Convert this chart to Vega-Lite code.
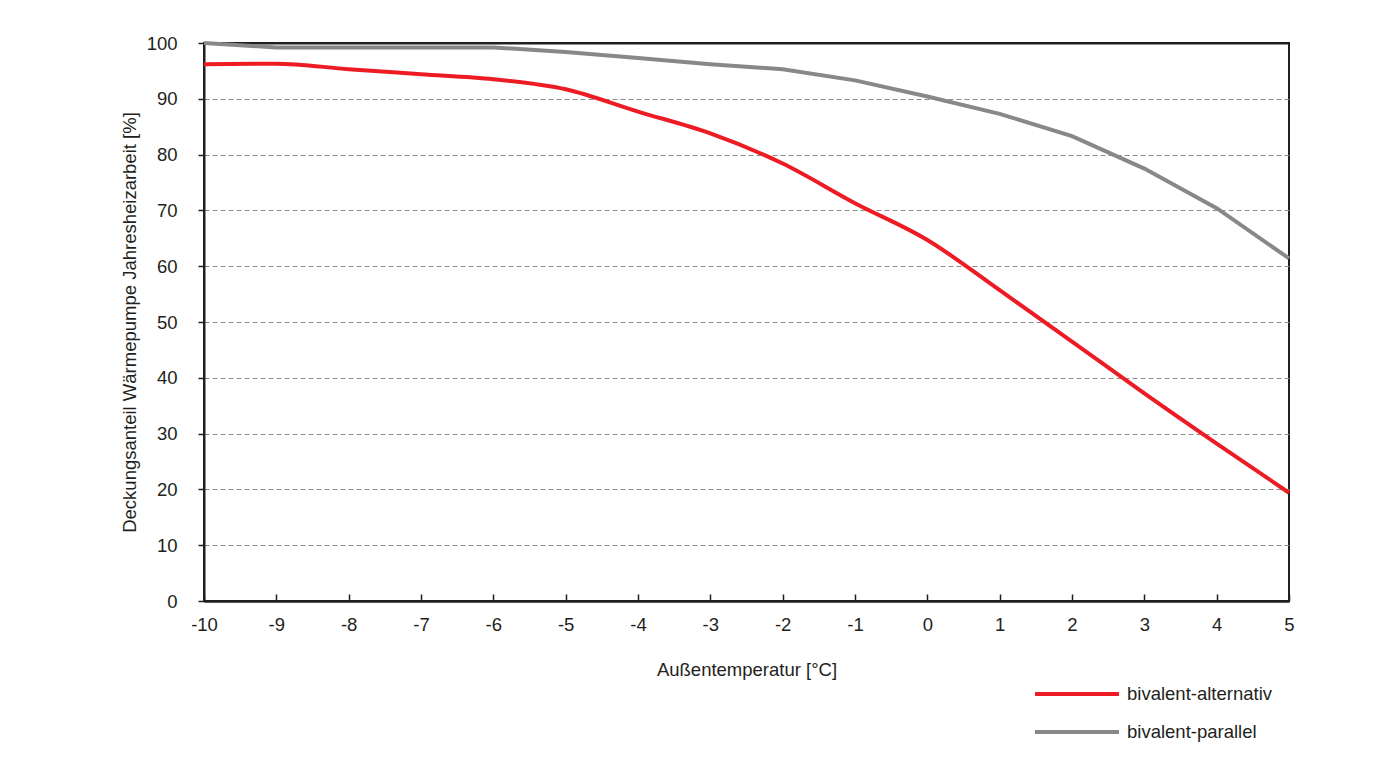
{
  "$schema": "https://vega.github.io/schema/vega-lite/v6.json",
  "width": 1085,
  "height": 558,
  "autosize": "none",
  "padding": {"left": 204, "top": 43, "right": 100, "bottom": 157},
  "background": "white",
  "config": {
    "font": "Liberation Sans, Arial, sans-serif",
    "view": {"stroke": "#231f20", "strokeWidth": 2},
    "axis": {
      "labelFontSize": 18.5,
      "labelColor": "#231f20",
      "titleFontSize": 18.5,
      "titleFontWeight": "normal",
      "titleColor": "#231f20",
      "domainColor": "#231f20",
      "domainWidth": 2,
      "tickColor": "#231f20",
      "tickWidth": 1.5
    },
    "legend": {
      "labelFontSize": 18.5,
      "labelColor": "#231f20",
      "padding": 0,
      "labelLimit": 0
    }
  },
  "data": {
    "values": [
      {"t": -10, "v": 96.2, "series": "bivalent-alternativ"},
      {"t": -9, "v": 96.3, "series": "bivalent-alternativ"},
      {"t": -8, "v": 95.3, "series": "bivalent-alternativ"},
      {"t": -7, "v": 94.4, "series": "bivalent-alternativ"},
      {"t": -6, "v": 93.5, "series": "bivalent-alternativ"},
      {"t": -5, "v": 91.7, "series": "bivalent-alternativ"},
      {"t": -4, "v": 87.7, "series": "bivalent-alternativ"},
      {"t": -3, "v": 83.8, "series": "bivalent-alternativ"},
      {"t": -2, "v": 78.4, "series": "bivalent-alternativ"},
      {"t": -1, "v": 71.3, "series": "bivalent-alternativ"},
      {"t": 0, "v": 64.7, "series": "bivalent-alternativ"},
      {"t": 1, "v": 55.7, "series": "bivalent-alternativ"},
      {"t": 2, "v": 46.5, "series": "bivalent-alternativ"},
      {"t": 3, "v": 37.2, "series": "bivalent-alternativ"},
      {"t": 4, "v": 28.2, "series": "bivalent-alternativ"},
      {"t": 5, "v": 19.4, "series": "bivalent-alternativ"},
      {"t": -10, "v": 100, "series": "bivalent-parallel"},
      {"t": -9, "v": 99.2, "series": "bivalent-parallel"},
      {"t": -8, "v": 99.2, "series": "bivalent-parallel"},
      {"t": -7, "v": 99.2, "series": "bivalent-parallel"},
      {"t": -6, "v": 99.2, "series": "bivalent-parallel"},
      {"t": -5, "v": 98.4, "series": "bivalent-parallel"},
      {"t": -4, "v": 97.3, "series": "bivalent-parallel"},
      {"t": -3, "v": 96.2, "series": "bivalent-parallel"},
      {"t": -2, "v": 95.3, "series": "bivalent-parallel"},
      {"t": -1, "v": 93.3, "series": "bivalent-parallel"},
      {"t": 0, "v": 90.4, "series": "bivalent-parallel"},
      {"t": 1, "v": 87.3, "series": "bivalent-parallel"},
      {"t": 2, "v": 83.3, "series": "bivalent-parallel"},
      {"t": 3, "v": 77.5, "series": "bivalent-parallel"},
      {"t": 4, "v": 70.4, "series": "bivalent-parallel"},
      {"t": 5, "v": 61.4, "series": "bivalent-parallel"}
    ]
  },
  "encoding": {
    "x": {
      "field": "t",
      "type": "quantitative",
      "scale": {"domain": [-10, 5], "nice": false, "zero": false},
      "axis": {
        "title": "Außentemperatur [°C]",
        "values": [-10, -9, -8, -7, -6, -5, -4, -3, -2, -1, 0, 1, 2, 3, 4, 5],
        "labelExpr": "'' + datum.value",
        "grid": false,
        "tickSize": -7,
        "labelPadding": 21,
        "titleAnchor": "middle",
        "titleBaseline": "alphabetic",
        "titleY": 74,
        "labelFlush": false
      }
    },
    "y": {
      "field": "v",
      "type": "quantitative",
      "scale": {"domain": [0, 100], "nice": false},
      "axis": {
        "title": "Deckungsanteil Wärmepumpe Jahresheizarbeit [%]",
        "values": [0, 10, 20, 30, 40, 50, 60, 70, 80, 90, 100],
        "grid": true,
        "gridColor": {"condition": {"test": "datum.value === 100 || datum.value === 0", "value": "#231f20"}, "value": "#8a8a8a"},
        "gridDash": {"condition": {"test": "datum.value === 100 || datum.value === 0", "value": []}, "value": [5, 3]},
        "gridWidth": {"condition": {"test": "datum.value === 100 || datum.value === 0", "value": 2}, "value": 1},
        "tickSize": 6,
        "labelPadding": 21,
        "titleAngle": -90,
        "titleBaseline": "alphabetic",
        "titleX": -69,
        "titleY": 279,
        "titleAnchor": "middle",
        "labelFlush": false
      }
    },
    "color": {
      "field": "series",
      "type": "nominal",
      "scale": {
        "domain": ["bivalent-alternativ", "bivalent-parallel"],
        "range": ["#ed1c24", "#87888a"]
      },
      "legend": {
        "title": null,
        "orient": "none",
        "legendX": 850,
        "legendY": 628,
        "symbolType": "M-2,0H2",
        "symbolSize": 1764,
        "symbolStrokeWidth": 4,
        "symbolFillColor": "transparent",
        "labelOffset": 27,
        "rowPadding": 5
      }
    }
  },
  "layer": [
    {
      "transform": [{"filter": "datum.series === 'bivalent-alternativ'"}],
      "mark": {"type": "line", "interpolate": "monotone", "strokeWidth": 4}
    },
    {
      "transform": [{"filter": "datum.series === 'bivalent-parallel'"}],
      "mark": {"type": "line", "interpolate": "linear", "strokeWidth": 4}
    }
  ]
}
